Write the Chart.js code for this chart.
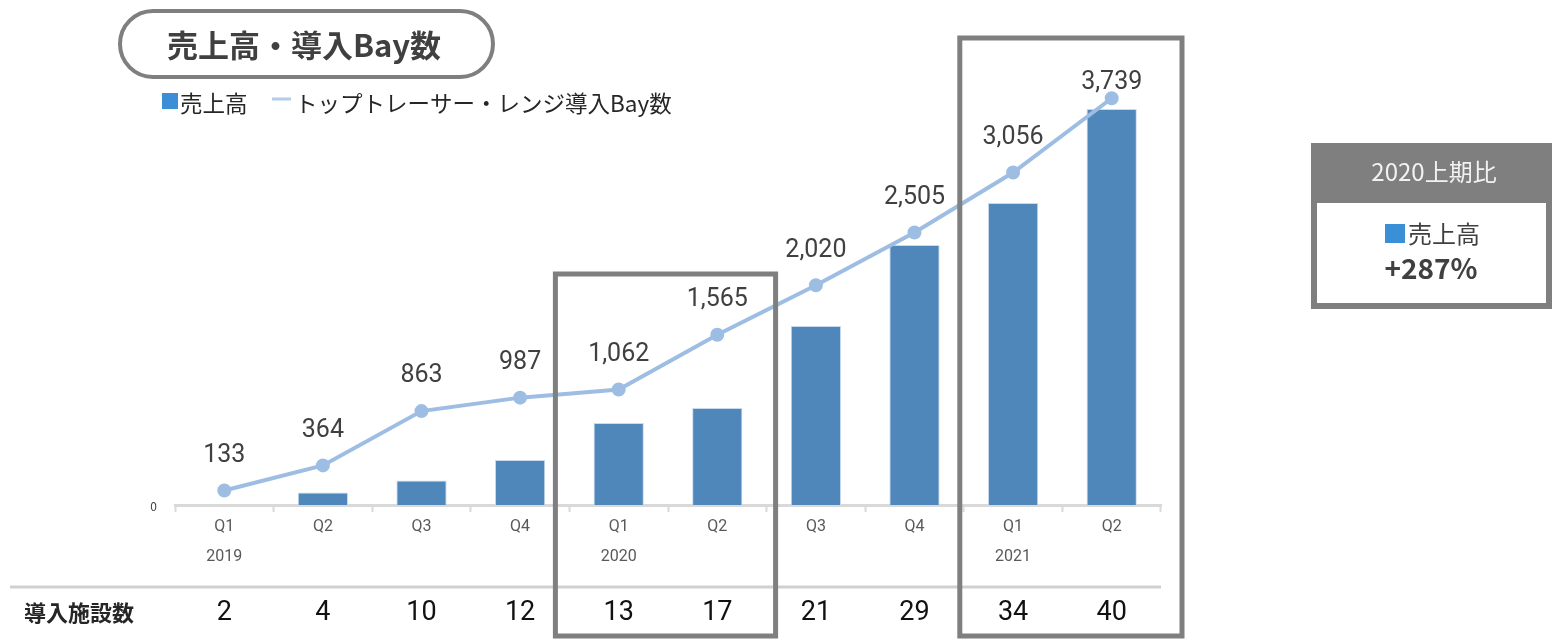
<!DOCTYPE html>
<html>
<head>
<meta charset="utf-8">
<script src="https://cdn.jsdelivr.net/npm/chart.js@4"></script>
<style>
    html, body { margin: 0; padding: 0; background: #fff; }
    #wrap { width: 1552px; height: 640px; position: relative; }
</style>
</head>
<body>
<div id="wrap"><canvas id="salesChart" width="1552" height="640"></canvas></div>
<script>
// DATA
const quarters = ['Q1', 'Q2', 'Q3', 'Q4', 'Q1', 'Q2', 'Q3', 'Q4', 'Q1', 'Q2'];
const years = ['2019', '', '', '', '2020', '', '', '', '2021', ''];
const sales = [0, 12.5, 24.5, 45, 82, 97, 179, 260, 302, 396];
const bays = [133, 364, 863, 987, 1062, 1565, 2020, 2505, 3056, 3739];
const facilities = [2, 4, 10, 12, 13, 17, 21, 29, 34, 40];
const highlightGroups = [[4, 5], [8, 9]];

const NARROW = '"Liberation Sans Narrow", "Roboto", sans-serif';
const JP = '"Noto Sans CJK JP", "Noto Sans", sans-serif';

// extra drawing: title, legend, labels, table, boxes
const overlay = {
    id: 'overlay',
    afterDatasetsDraw(chart) {
        const ctx = chart.ctx;
        const x = chart.scales.x;
        const area = chart.chartArea;
        const line = chart.getDatasetMeta(1);
        const half = (x.getPixelForValue(1) - x.getPixelForValue(0)) / 2;

        ctx.save();

        // zero label
        ctx.fillStyle = '#404040';
        ctx.font = '12px ' + JP;
        ctx.textAlign = 'right';
        ctx.textBaseline = 'middle';
        ctx.fillText('0', 157, area.bottom + 1);

        // line value labels
        ctx.fillStyle = '#404040';
        ctx.font = '25px ' + NARROW;
        ctx.textAlign = 'center';
        line.data.forEach((pt, i) => {
            const y = Math.max(pt.y - 35, 83);
            ctx.fillText(bays[i].toLocaleString('en-US'), pt.x, y);
        });

        // title pill
        ctx.lineWidth = 4;
        ctx.strokeStyle = '#7f7f7f';
        ctx.beginPath();
        ctx.roundRect(120, 11, 373, 66, 33);
        ctx.stroke();
        ctx.fillStyle = '#404040';
        ctx.font = 'bold 31px ' + JP;
        ctx.textAlign = 'center';
        ctx.fillText('売上高・導入Bay数', 304, 45);

        // legend
        ctx.fillStyle = '#3a8fd6';
        ctx.fillRect(162, 93, 16, 16);
        ctx.fillStyle = '#262626';
        ctx.font = '22.5px ' + JP;
        ctx.textAlign = 'left';
        ctx.fillText('売上高', 180, 103);
        ctx.strokeStyle = '#b4cbe9';
        ctx.lineWidth = 3;
        ctx.beginPath();
        ctx.moveTo(272, 99);
        ctx.lineTo(291, 99);
        ctx.stroke();
        ctx.fillText('トップトレーサー・レンジ導入Bay数', 295, 103);

        // table
        ctx.strokeStyle = '#d0d0d0';
        ctx.lineWidth = 3;
        ctx.beginPath();
        ctx.moveTo(10, 587);
        ctx.lineTo(area.right, 587);
        ctx.stroke();
        ctx.fillStyle = '#262626';
        ctx.font = 'bold 22px ' + JP;
        ctx.textAlign = 'left';
        ctx.fillText('導入施設数', 24, 613);
        ctx.fillStyle = '#111';
        ctx.font = '27px ' + NARROW;
        ctx.textAlign = 'center';
        facilities.forEach((v, i) => {
            ctx.fillText(String(v), x.getPixelForValue(i), 613);
        });

        // highlight boxes
        ctx.strokeStyle = '#7f7f7f';
        ctx.lineWidth = 5;
        const tops = [274, 38];
        const pads = [[14, 9], [4, 21]];
        highlightGroups.forEach((g, k) => {
            const left = x.getPixelForValue(g[0]) - half - pads[k][0];
            const right = x.getPixelForValue(g[g.length - 1]) + half + pads[k][1];
            ctx.strokeRect(left, tops[k], right - left, 636 - tops[k]);
        });

        // comparison box
        ctx.fillStyle = '#7f7f7f';
        ctx.fillRect(1311, 143, 241, 166);
        ctx.fillStyle = '#fff';
        ctx.fillRect(1317, 203, 229, 100);
        ctx.fillStyle = '#f2f2f2';
        ctx.font = '24px ' + JP;
        ctx.textAlign = 'center';
        ctx.fillText('2020上期比', 1434, 172);
        ctx.fillStyle = '#3a8fd6';
        ctx.fillRect(1385, 224, 20, 19);
        ctx.fillStyle = '#404040';
        ctx.font = '24px ' + JP;
        ctx.textAlign = 'left';
        ctx.fillText('売上高', 1408, 234);
        ctx.font = 'bold 28px ' + JP;
        ctx.textAlign = 'center';
        ctx.fillText('+287%', 1431, 268);

        ctx.restore();
    }
};

const chartData = {
    labels: quarters.map((q, i) => years[i] ? [q, years[i]] : [q]),
    datasets: [
        {
            type: 'bar',
            label: '売上高',
            data: sales,
            yAxisID: 'ySales',
            backgroundColor: '#4f87bb',
            borderColor: '#c9daee',
            borderWidth: 1,
            barPercentage: 0.51,
            categoryPercentage: 1,
            order: 2,
        },
        {
            type: 'line',
            label: 'トップトレーサー・レンジ導入Bay数',
            data: bays,
            yAxisID: 'yBays',
            borderColor: '#9dbde3',
            backgroundColor: '#9dbde3',
            borderWidth: 4,
            pointRadius: 5,
            pointHoverRadius: 5,
            tension: 0,
            order: 1,
        }
    ]
};

new Chart(document.getElementById('salesChart'), {
    data: chartData,
    plugins: [overlay],
    options: {
        responsive: false,
        animation: false,
        layout: {
            padding: { left: 175, right: 391, top: 59, bottom: 68 },
        },
        plugins: {
            legend: { display: false },
            tooltip: { enabled: false },
        },
        scales: {
            x: {
                offset: true,
                grid: {
                    offset: true,
                    drawOnChartArea: false,
                    tickLength: 7,
                    tickColor: '#d9d9d9',
                    tickWidth: 2,
                },
                border: { color: '#d9d9d9', width: 3 },
                ticks: {
                    padding: 0,
                    color: '#595959',
                    font: { family: NARROW, size: 16, lineHeight: 1.875 },
                },
            },
            ySales: {
                display: false,
                min: 0,
                max: 446,
            },
            yBays: {
                display: false,
                min: 0,
                max: 4100,
            },
        },
    },
});
</script>
</body>
</html>
